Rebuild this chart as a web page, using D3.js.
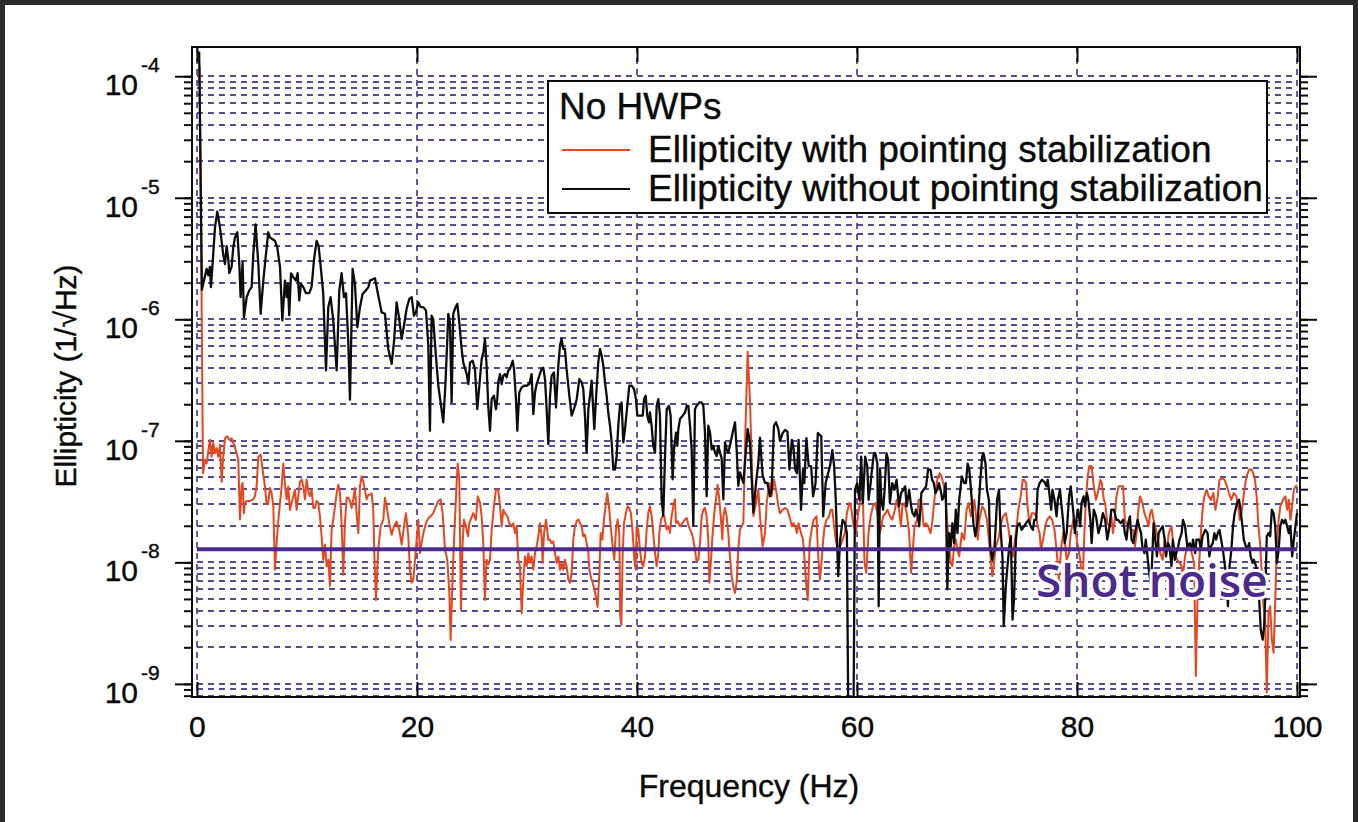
<!DOCTYPE html>
<html>
<head>
<meta charset="utf-8">
<script src="https://cdn.jsdelivr.net/npm/d3@7"></script>
<style>
  html, body { margin: 0; padding: 0; background: #fff; }
  svg { display: block; }
</style>
</head>
<body>
<script>
// ---- values ----
var xTicks = [0, 20, 40, 60, 80, 100];
var yDecades = [-9, -8, -7, -6, -5, -4];
var shotNoise = 1.28e-8;
var shotNoiseLabel = "Shot noise";
var legendTitle = "No HWPs";
var seriesNames = ["Ellipticity with pointing stabilization", "Ellipticity without pointing stabilization"];
var xTitle = "Frequency (Hz)";
var yTitle = "Ellipticity (1/\u221AHz)";

// [frequency (Hz), ellipticity (1/sqrt(Hz))]
var withStab = [
 [0.25,1.2e-4],[0.55,5.4e-8],[0.73,7.0e-8],[0.88,6.5e-8],[1.03,8.2e-8],[1.18,1.02e-7],[1.33,7.4e-8],[1.48,9.6e-8],
 [1.64,7.9e-8],[1.79,8.7e-8],[1.94,7.4e-8],[2.09,9.3e-8],[2.24,4.6e-8],[2.39,7.4e-8],[2.55,1.05e-7],[2.76,1.09e-7],
 [2.94,1.02e-7],[3.15,1.05e-7],[3.36,9.3e-8],[3.61,7.9e-8],[3.76,7.0e-8],[3.91,2.25e-8],[4.06,4.2e-8],[4.15,4.5e-8],
 [4.27,2.54e-8],[4.36,3.1e-8],[4.52,3.2e-8],[4.82,3.2e-8],[5.12,3.3e-8],[5.27,3.5e-8],[5.42,4.2e-8],[5.58,7.4e-8],
 [5.79,7.7e-8],[5.97,5.8e-8],[6.18,4.2e-8],[6.33,3.0e-8],[6.48,3.1e-8],[6.64,4.1e-8],[6.79,3.7e-8],[6.94,2.9e-8],
 [7.09,8.7e-9],[7.24,1.44e-8],[7.39,2.17e-8],[7.55,3.1e-8],[7.7,4.2e-8],[7.85,6.5e-8],[8.0,4.35e-8],[8.15,3.3e-8],
 [8.3,4.2e-8],[8.45,2.7e-8],[8.61,3.1e-8],[8.76,3.5e-8],[8.91,3.95e-8],[9.06,2.7e-8],[9.21,3.5e-8],[9.36,4.6e-8],
 [9.52,4.8e-8],[9.67,4.2e-8],[9.82,3.3e-8],[9.97,4.8e-8],[10.12,3.84e-8],[10.27,3.5e-8],[10.42,3.95e-8],[10.58,2.8e-8],
 [10.73,2.8e-8],[10.88,3.2e-8],[11.03,3.1e-8],[11.18,2.39e-8],[11.33,1.64e-8],[11.48,1.05e-8],[11.64,1.4e-8],[11.79,9.3e-9],
 [11.94,1.05e-8],[12.09,6.4e-9],[12.24,1.85e-8],[12.39,2.25e-8],[12.55,2.9e-8],[12.7,3.7e-8],[12.85,4.35e-8],[13.0,3.7e-8],
 [13.15,2.1e-8],[13.3,7.9e-9],[13.45,2.1e-8],[13.61,3.4e-8],[13.76,3.4e-8],[13.91,3.2e-8],[14.06,2.8e-8],[14.21,3.3e-8],
 [14.36,4.1e-8],[14.52,2.47e-8],[14.67,1.74e-8],[14.82,4.2e-8],[14.97,5.1e-8],[15.12,4.6e-8],[15.27,3.95e-8],[15.42,3.3e-8],
 [15.58,3.6e-8],[15.73,3.6e-8],[15.88,3.7e-8],[16.03,2.7e-8],[16.12,1.19e-8],[16.27,4.9e-9],[16.48,1.27e-8],[16.7,1.98e-8],
 [16.94,2.24e-8],[17.09,3.4e-8],[17.24,2.9e-8],[17.48,2.1e-8],[17.7,1.69e-8],[17.91,1.98e-8],[18.15,2.17e-8],[18.39,1.85e-8],
 [18.61,1.4e-8],[18.82,1.98e-8],[19.0,2.54e-8],[19.21,1.64e-8],[19.36,8.7e-9],[19.52,6.8e-9],[19.67,7.2e-9],[19.82,1.05e-8],
 [19.97,1.53e-8],[20.12,2.24e-8],[20.27,1.19e-8],[20.42,1.44e-8],[20.58,1.74e-8],[20.82,2.1e-8],[21.03,2.31e-8],[21.24,2.39e-8],
 [21.48,2.54e-8],[21.73,2.9e-8],[21.94,3.2e-8],[22.15,3.3e-8],[22.33,2.54e-8],[22.55,1.27e-8],[22.76,1.05e-8],[22.94,5.6e-9],
 [23.06,2.3e-9],[23.24,7.7e-9],[23.36,1.44e-8],[23.55,3.5e-8],[23.7,6.5e-8],[23.85,4.8e-8],[24.0,4.1e-9],[24.15,1.44e-8],
 [24.27,2.24e-8],[24.45,1.98e-8],[24.64,1.64e-8],[24.76,2.1e-8],[24.94,2.31e-8],[25.12,2.54e-8],[25.36,2.24e-8],[25.52,3.5e-8],
 [25.73,3.1e-8],[25.88,2.39e-8],[26.03,1.44e-8],[26.18,4.9e-9],[26.33,1.05e-8],[26.48,9.6e-9],[26.64,1.05e-8],[26.79,1.85e-8],
 [27.0,2.9e-8],[27.18,3.95e-8],[27.39,3.95e-8],[27.55,2.9e-8],[27.7,1.98e-8],[27.85,2.71e-8],[28.0,2.54e-8],[28.21,2.39e-8],
 [28.39,2.1e-8],[28.61,1.98e-8],[28.76,2.1e-8],[28.91,1.74e-8],[29.06,1.98e-8],[29.21,1.05e-8],[29.36,9.3e-9],[29.52,3.8e-9],
 [29.67,7.2e-9],[29.82,1.12e-8],[29.97,9.3e-9],[30.12,1.19e-8],[30.27,9.9e-9],[30.42,1.12e-8],[30.58,8.7e-9],[30.73,1.19e-8],
 [30.88,1.36e-8],[31.03,1.64e-8],[31.18,2.1e-8],[31.33,1.64e-8],[31.42,9.9e-9],[31.55,1.74e-8],[31.73,2.24e-8],[31.94,1.53e-8],
 [32.09,1.54e-8],[32.24,1.44e-8],[32.39,1.49e-8],[32.55,1.19e-8],[32.7,9.9e-9],[32.85,1.12e-8],[33.0,8.7e-9],[33.15,9.9e-9],
 [33.3,8.7e-9],[33.45,1.05e-8],[33.6,9.3e-9],[33.76,7.2e-9],[33.91,6.8e-9],[34.06,8.2e-9],[34.21,1.54e-8],[34.36,1.98e-8],
 [34.52,2.18e-8],[34.67,2.25e-8],[34.82,2.11e-8],[34.97,1.98e-8],[35.12,1.64e-8],[35.27,1.69e-8],[35.42,1.44e-8],[35.58,1.19e-8],
 [35.67,8.7e-9],[35.79,7.7e-9],[35.97,6.8e-9],[36.12,6.0e-9],[36.27,5.2e-9],[36.42,4.3e-9],[36.58,8.2e-9],[36.7,1.74e-8],
 [36.85,1.54e-8],[37.0,2.25e-8],[37.15,2.9e-8],[37.3,3.7e-8],[37.45,2.9e-8],[37.61,1.98e-8],[37.79,1.36e-8],[37.94,1.05e-8],
 [38.09,1.86e-8],[38.24,2.25e-8],[38.39,1.74e-8],[38.48,3.6e-9],[38.58,3.06e-9],[38.7,1.19e-8],[38.82,2.11e-8],[39.0,2.55e-8],
 [39.15,2.9e-8],[39.3,2.8e-8],[39.45,2.55e-8],[39.61,1.74e-8],[39.76,1.05e-8],[39.88,8.7e-9],[39.97,1.98e-8],[40.12,1.86e-8],
 [40.27,1.27e-8],[40.42,9.9e-9],[40.58,9.3e-9],[40.73,1.12e-8],[40.88,1.86e-8],[41.03,2.55e-8],[41.18,2.9e-8],[41.33,2.4e-8],
 [41.48,1.74e-8],[41.64,1.19e-8],[41.79,9.3e-9],[41.94,1.19e-8],[42.03,1.74e-8],[42.18,2.25e-8],[42.33,2.4e-8],[42.48,2.4e-8],
 [42.7,1.86e-8],[42.85,1.98e-8],[43.0,1.74e-8],[43.15,2.4e-8],[43.3,2.9e-8],[43.45,3.3e-8],[43.55,2.11e-8],[43.7,2.18e-8],
 [43.91,1.98e-8],[44.15,2.11e-8],[44.36,2.25e-8],[44.52,2.32e-8],[44.67,2.04e-8],[44.82,1.86e-8],[44.97,1.74e-8],[45.12,1.54e-8],
 [45.27,1.27e-8],[45.42,1.02e-8],[45.58,1.05e-8],[45.73,1.44e-8],[45.88,2.4e-8],[46.03,2.7e-8],[46.18,2.8e-8],[46.33,2.4e-8],
 [46.48,1.54e-8],[46.58,6.8e-9],[46.73,1.05e-8],[46.88,1.74e-8],[47.03,2.55e-8],[47.18,3.3e-8],[47.33,4.36e-8],[47.48,3.3e-8],
 [47.61,2.4e-8],[47.76,1.54e-8],[47.85,2.4e-8],[48.0,2.8e-8],[48.15,2.4e-8],[48.3,1.74e-8],[48.45,1.12e-8],[48.61,7.7e-9],
 [48.76,6.3e-9],[48.91,5.6e-9],[49.06,6.8e-9],[49.21,1.27e-8],[49.36,1.86e-8],[49.67,2.11e-8],[49.85,1.16e-7],[50.06,5.4e-7],
 [50.27,2.19e-7],[50.42,7.5e-8],[50.58,2.4e-8],[50.82,3.08e-8],[51.03,3.97e-8],[51.18,2.4e-8],[51.42,1.36e-8],[51.64,1.75e-8],
 [51.79,3.08e-8],[52.03,4.5e-8],[52.24,3.5e-8],[52.45,4.8e-8],[52.64,3.97e-8],[52.85,2.9e-8],[53.0,2.54e-8],[53.25,2.71e-8],
 [53.46,2.8e-8],[53.68,2.71e-8],[53.86,2.39e-8],[54.08,1.98e-8],[54.23,2.1e-8],[54.38,1.98e-8],[54.54,1.74e-8],[54.69,2.1e-8],
 [54.91,1.74e-8],[55.09,1.54e-8],[55.21,1.12e-8],[55.4,6.4e-9],[55.52,4.9e-9],[55.7,1.44e-8],[55.92,1.98e-8],[56.07,2.24e-8],
 [56.32,2.39e-8],[56.44,1.27e-8],[56.63,7.2e-9],[56.75,9.3e-9],[56.93,1.54e-8],[57.06,1.98e-8],[57.24,2.24e-8],[57.46,2.39e-8],
 [57.61,2.71e-8],[57.76,2.71e-8],[57.92,1.98e-8],[58.07,1.54e-8],[58.29,1.19e-8],[58.47,1.35e-8],[58.69,1.54e-8],[58.9,1.74e-8],
 [59.08,2.54e-8],[59.3,3.08e-8],[59.45,2.89e-8],[59.7,1.98e-8],[59.91,1.74e-8],[60.07,2.39e-8],[60.31,3.27e-8],[60.53,3.72e-8],
 [60.68,9.9e-9],[60.84,8.2e-9],[61.05,1.74e-8],[61.24,2.39e-8],[61.45,2.89e-8],[61.67,3.08e-8],[61.85,2.54e-8],[62.07,1.74e-8],
 [62.22,1.98e-8],[62.37,2.39e-8],[62.59,2.54e-8],[62.77,2.71e-8],[62.99,2.39e-8],[63.2,2.24e-8],[63.45,2.71e-8],[63.6,3.27e-8],
 [63.82,2.71e-8],[64.0,1.98e-8],[64.12,2.89e-8],[64.31,3.08e-8],[64.52,2.54e-8],[64.74,1.74e-8],[64.92,8.2e-9],[65.05,1.19e-8],
 [65.23,1.98e-8],[65.45,2.24e-8],[65.6,3.27e-8],[65.85,3.27e-8],[66.06,1.98e-8],[66.28,2.1e-8],[66.46,1.98e-8],[66.68,1.74e-8],
 [66.83,2.1e-8],[67.07,3.49e-8],[67.29,4.78e-8],[67.51,5.4e-8],[67.69,5.1e-8],[67.9,4.22e-8],[68.06,3.27e-8],[68.21,2.1e-8],
 [68.37,1.35e-8],[68.52,9.9e-9],[68.67,9.3e-9],[68.83,1.35e-8],[68.98,1.54e-8],[69.13,1.27e-8],[69.29,1.12e-8],[69.53,1.74e-8],
 [69.75,1.54e-8],[69.96,2.71e-8],[70.15,3.08e-8],[70.36,2.39e-8],[70.52,2.71e-8],[70.67,3.27e-8],[70.82,2.39e-8],[70.98,1.54e-8],
 [71.13,2.24e-8],[71.38,2.89e-8],[71.59,2.71e-8],[71.81,2.24e-8],[71.99,1.54e-8],[72.11,1.19e-8],[72.3,7.7e-9],[72.42,9.3e-9],
 [72.61,1.35e-8],[72.73,1.44e-8],[72.91,1.64e-8],[73.04,1.98e-8],[73.28,2.39e-8],[73.53,2.54e-8],[73.74,1.98e-8],[73.9,1.54e-8],
 [74.05,1.19e-8],[74.2,1.12e-8],[74.36,1.54e-8],[74.51,1.98e-8],[74.67,2.71e-8],[74.88,3.49e-8],[75.07,4.78e-8],[75.19,4.78e-8],
 [75.37,4.49e-8],[75.5,2.89e-8],[75.68,2.1e-8],[75.9,2.54e-8],[76.11,2.54e-8],[76.29,2.39e-8],[76.42,1.98e-8],[76.6,1.74e-8],
 [76.72,1.27e-8],[76.91,1.54e-8],[77.12,1.98e-8],[77.28,2.24e-8],[77.52,2.39e-8],[77.74,2.24e-8],[77.95,1.85e-8],[78.14,1.27e-8],
 [78.35,7.2e-9],[78.57,1.35e-8],[78.75,1.74e-8],[78.88,1.54e-8],[79.06,1.05e-8],[79.28,1.19e-8],[79.43,1.74e-8],[79.67,2.24e-8],
 [79.89,1.74e-8],[80.04,1.44e-8],[80.29,1.05e-8],[80.5,6.4e-9],[80.66,1.64e-8],[80.81,3.27e-8],[80.97,5.1e-8],[81.12,6.2e-8],
 [81.33,6.2e-8],[81.52,4.22e-8],[81.73,3.27e-8],[81.89,3.72e-8],[82.13,4.78e-8],[82.26,4.49e-8],[82.44,3.27e-8],[82.56,3.08e-8],
 [82.75,2.1e-8],[82.96,1.98e-8],[83.12,2.39e-8],[83.27,1.74e-8],[83.42,2.24e-8],[83.58,3.49e-8],[83.79,4.22e-8],[83.98,4.22e-8],
 [84.19,4.22e-8],[84.35,2.24e-8],[84.59,1.98e-8],[84.71,2.1e-8],[84.9,1.85e-8],[85.11,1.85e-8],[85.27,1.35e-8],[85.42,1.74e-8],
 [85.57,2.71e-8],[85.73,3.49e-8],[85.94,3.08e-8],[86.13,2.54e-8],[86.34,2.24e-8],[86.5,1.98e-8],[86.65,2.54e-8],[86.8,2.71e-8],
 [86.96,2.24e-8],[87.11,1.98e-8],[87.36,1.54e-8],[87.57,1.19e-8],[87.79,1.05e-8],[87.97,1.54e-8],[88.19,1.27e-8],[88.34,1.74e-8],
 [88.59,1.98e-8],[88.71,1.54e-8],[88.89,1.19e-8],[89.11,1.05e-8],[89.32,9.9e-9],[89.51,9.3e-9],[89.63,7.7e-9],[89.82,1.12e-8],
 [90.03,1.35e-8],[90.25,1.35e-8],[90.43,1.19e-8],[90.65,9.9e-9],[90.8,1.16e-9],[90.95,4.9e-9],[91.11,9.9e-9],[91.26,1.74e-8],
 [91.41,2.71e-8],[91.57,3.49e-8],[91.78,3.96e-8],[91.97,3.49e-8],[92.18,3.27e-8],[92.4,3.72e-8],[92.58,2.71e-8],[92.8,3.49e-8],
 [92.95,4.78e-8],[93.2,4.93e-8],[93.41,4.78e-8],[93.63,4.22e-8],[93.81,3.72e-8],[94.03,3.27e-8],[94.24,3.72e-8],[94.49,3.49e-8],
 [94.64,2.89e-8],[94.79,2.24e-8],[94.95,2.54e-8],[95.1,3.27e-8],[95.26,4.22e-8],[95.41,5.1e-8],[95.65,5.8e-8],[95.87,5.8e-8],
 [96.02,5.4e-8],[96.18,4.78e-8],[96.33,3.49e-8],[96.49,1.98e-8],[96.64,1.44e-8],[96.79,8.2e-9],[96.95,4.35e-9],[97.1,3.38e-9],
 [97.25,8.5e-10],[97.41,3.83e-9],[97.56,4.35e-9],[97.71,2.31e-9],[97.87,1.8e-9],[98.02,4.9e-9],[98.17,1.44e-8],[98.33,2.24e-8],
 [98.48,2.89e-8],[98.73,3.27e-8],[98.94,3.49e-8],[99.1,2.71e-8],[99.25,3.27e-8],[99.4,2.24e-8],[99.56,2.89e-8],[99.71,3.96e-8],
 [99.86,4.22e-8],[100.0,4.3e-8]
];

var withoutStab = [
 [0.2,1.6e-4],[0.45,1.75e-6],[0.88,2.6e-6],[1.03,2.3e-6],[1.18,2.7e-6],[1.27,1.84e-6],[1.42,2.85e-6],[1.64,5.7e-6],
 [1.85,7.7e-6],[2.09,5.7e-6],[2.39,3.4e-6],[2.55,2.85e-6],[2.7,4.0e-6],[2.85,3.1e-6],[2.94,2.4e-6],[3.15,2.7e-6],
 [3.3,3.9e-6],[3.45,4.7e-6],[3.67,5.2e-6],[3.85,2.85e-6],[3.97,1.52e-6],[4.15,2.95e-6],[4.27,1.04e-6],[4.52,1.52e-6],
 [4.76,1.73e-6],[4.97,1.84e-6],[5.12,3.4e-6],[5.33,6.05e-6],[5.58,2.85e-6],[5.79,1.11e-6],[6.03,2.08e-6],[6.27,3.4e-6],
 [6.48,5.2e-6],[6.64,4.7e-6],[6.88,4.56e-6],[7.09,4.42e-6],[7.3,3.9e-6],[7.55,2.7e-6],[7.76,9.8e-7],[8.0,2.08e-6],
 [8.15,1.52e-6],[8.27,1.96e-6],[8.39,1.08e-6],[8.55,2.39e-6],[8.76,2.22e-6],[9.0,2.08e-6],[9.15,2.4e-6],[9.3,1.43e-6],
 [9.45,1.96e-6],[9.67,1.84e-6],[9.91,1.64e-6],[10.2,1.64e-6],[10.42,1.84e-6],[10.64,3.1e-6],[10.88,4.42e-6],[11.06,4.0e-6],
 [11.27,2.6e-6],[11.48,1.62e-6],[11.73,3.8e-7],[11.94,1.26e-6],[12.15,1.52e-6],[12.39,9.8e-7],[12.7,3.8e-7],[12.94,1.73e-6],
 [13.15,2.4e-6],[13.36,1.52e-6],[13.55,1.64e-6],[13.76,6.3e-7],[13.91,2.18e-7],[14.15,2.6e-6],[14.36,1.96e-6],[14.58,8.6e-7],
 [14.82,1.26e-6],[15.06,1.62e-6],[15.36,1.73e-6],[15.58,1.84e-6],[15.73,2.08e-6],[16.18,2.18e-6],[16.48,1.57e-6],[16.79,1.14e-6],
 [17.09,1.11e-6],[17.39,5.7e-7],[17.7,4.3e-7],[17.91,6.5e-7],[18.15,1.38e-6],[18.39,1.0e-6],[18.61,6.9e-7],[18.82,8.9e-7],
 [19.06,1.22e-6],[19.3,1.47e-6],[19.52,1.52e-6],[19.73,1.07e-6],[19.91,1.14e-6],[20.12,1.38e-6],[20.33,1.26e-6],[20.58,1.26e-6],
 [20.82,1.18e-6],[21.03,6.1e-7],[21.18,1.21e-7],[21.33,1.07e-6],[21.48,1.0e-6],[21.7,5.3e-7],[21.94,2.84e-7],[22.15,2.07e-7],
 [22.39,1.42e-7],[22.58,2.84e-7],[22.76,6.9e-7],[22.85,1.11e-6],[23.0,9.4e-7],[23.15,2.07e-7],[23.3,1.11e-6],[23.45,1.22e-6],
 [23.67,1.34e-6],[23.85,9.4e-7],[24.06,5.7e-7],[24.21,4.4e-7],[24.52,3.54e-7],[24.67,2.93e-7],[24.82,4.4e-7],[25.06,4.56e-7],
 [25.27,3.9e-7],[25.48,1.82e-7],[25.67,2.84e-7],[25.88,4.7e-7],[26.03,5.3e-7],[26.18,6.9e-7],[26.33,4.15e-7],[26.48,1.94e-7],
 [26.64,1.21e-7],[26.79,2.2e-7],[27.0,2.35e-7],[27.18,1.82e-7],[27.3,2.2e-7],[27.39,3.03e-7],[27.55,3.54e-7],[27.7,2.93e-7],
 [27.85,3.43e-7],[28.0,3.54e-7],[28.15,3.33e-7],[28.3,3.78e-7],[28.45,3.9e-7],[28.7,4.56e-7],[28.82,3.9e-7],[29.0,2.2e-7],
 [29.12,1.21e-7],[29.3,2.5e-7],[29.52,2.75e-7],[29.73,2.84e-7],[29.97,2.84e-7],[30.21,2.93e-7],[30.42,3.54e-7],[30.58,1.66e-7],
 [30.73,2.5e-7],[30.88,2.93e-7],[31.12,3.43e-7],[31.33,3.9e-7],[31.48,4.0e-7],[31.64,3.22e-7],[31.79,1.82e-7],[31.94,9.4e-8],
 [32.09,2.3e-7],[32.24,3.43e-7],[32.45,3.66e-7],[32.64,1.88e-7],[32.85,4.15e-7],[33.0,6.1e-7],[33.15,6.9e-7],[33.3,5.7e-7],
 [33.45,5.7e-7],[33.6,3.9e-7],[33.85,2.35e-7],[34.06,1.61e-7],[34.27,1.82e-7],[34.52,2.2e-7],[34.76,3.22e-7],[34.97,3.03e-7],
 [35.12,2.67e-7],[35.27,1.61e-7],[35.42,8.0e-8],[35.58,1.82e-7],[35.73,2.35e-7],[35.88,3.13e-7],[35.97,2.2e-7],[36.12,1.25e-7],
 [36.27,2.2e-7],[36.48,4.43e-7],[36.64,5.7e-7],[36.79,5.0e-7],[36.94,4.15e-7],[37.09,3.03e-7],[37.24,2.35e-7],[37.39,1.71e-7],
 [37.55,1.33e-7],[37.7,9.7e-8],[37.85,5.8e-8],[38.0,5.8e-8],[38.15,7.5e-8],[38.3,1.33e-7],[38.45,1.94e-7],[38.6,2.07e-7],
 [38.76,9.7e-8],[38.91,1.25e-7],[39.06,1.71e-7],[39.3,2.84e-7],[39.52,2.84e-7],[39.73,2.67e-7],[39.91,2.2e-7],[40.03,1.61e-7],
 [40.27,1.61e-7],[40.52,1.61e-7],[40.64,2.2e-7],[40.79,2.35e-7],[40.94,1.61e-7],[41.09,1.42e-7],[41.18,1.71e-7],[41.33,1.33e-7],
 [41.48,9.1e-8],[41.64,8.0e-8],[41.79,1.94e-7],[41.94,2.2e-7],[42.09,1.61e-7],[42.24,3.3e-8],[42.39,2.41e-8],[42.55,7.5e-8],
 [42.7,1.82e-7],[42.91,1.94e-7],[43.06,1.61e-7],[43.24,4.83e-8],[43.36,8.5e-8],[43.55,1.17e-7],[43.67,9.1e-8],[43.76,1.25e-7],
 [43.91,1.51e-7],[44.15,1.61e-7],[44.36,1.71e-7],[44.52,1.94e-7],[44.67,1.94e-7],[44.82,1.33e-7],[44.97,8.5e-8],[45.12,2.0e-8],
 [45.27,1.82e-7],[45.42,1.94e-7],[45.67,2.07e-7],[45.88,2.07e-7],[46.03,1.94e-7],[46.18,1.17e-7],[46.33,3.5e-8],[46.48,1.33e-7],
 [46.64,1.17e-7],[46.79,8.5e-8],[46.94,9.1e-8],[47.09,8.0e-8],[47.24,7.5e-8],[47.39,9.1e-8],[47.55,8.0e-8],[47.7,7.1e-8],
 [47.85,3.3e-8],[48.0,9.7e-8],[48.15,8.5e-8],[48.3,8.0e-8],[48.45,9.1e-8],[48.7,1.17e-7],[48.91,1.42e-7],[49.06,8.5e-8],
 [49.21,4.26e-8],[49.36,5.5e-8],[49.67,4.5e-8],[50.06,1.25e-7],[50.27,9.7e-8],[50.58,2.56e-8],[50.82,4.5e-8],[51.03,6.6e-8],
 [51.18,1.06e-7],[51.42,5.2e-8],[51.64,4.5e-8],[51.85,4.5e-8],[52.09,3.5e-8],[52.24,4.0e-8],[52.45,1.33e-7],[52.64,1.42e-7],
 [52.85,1.25e-7],[53.0,1.0e-7],[53.25,1.16e-7],[53.46,1.23e-7],[53.68,1.19e-7],[53.86,5.8e-8],[54.08,1.02e-7],[54.23,8.7e-8],
 [54.38,5.8e-8],[54.54,5.4e-8],[54.69,1.02e-7],[54.91,2.71e-8],[55.09,5.8e-8],[55.21,4.49e-8],[55.4,1.05e-7],[55.61,6.2e-8],
 [55.83,6.2e-8],[56.01,3.49e-8],[56.23,4.49e-8],[56.44,1.16e-7],[56.75,1.09e-7],[56.93,2.39e-8],[57.15,4.49e-8],[57.3,5.1e-8],
 [57.55,6.2e-8],[57.76,8.4e-8],[57.92,6.2e-8],[58.07,3.27e-8],[58.29,7.7e-9],[58.47,1.54e-8],[58.69,2.24e-8],[58.9,2.1e-8],
 [59.08,1.74e-8],[59.21,5.0e-10],[59.45,5.0e-10],[59.68,5.0e-10],[59.82,3.96e-8],[60.01,4.49e-8],[60.22,3.27e-8],[60.38,7.4e-8],
 [60.53,3.08e-8],[60.74,7.4e-8],[60.93,6.2e-8],[61.05,3.27e-8],[61.24,4.49e-8],[61.36,5.8e-8],[61.54,7.9e-8],[61.67,7.9e-8],
 [61.85,6.5e-8],[61.97,4.35e-9],[62.1,5.8e-8],[62.22,3.27e-8],[62.37,2.71e-8],[62.53,4.22e-8],[62.68,7.9e-8],[62.83,7.0e-8],
 [62.99,3.08e-8],[63.2,4.49e-8],[63.39,3.96e-8],[63.6,4.78e-8],[63.82,2.89e-8],[64.0,3.72e-8],[64.22,3.96e-8],[64.37,4.22e-8],
 [64.52,2.89e-8],[64.74,3.96e-8],[64.92,2.89e-8],[65.05,2.54e-8],[65.23,2.39e-8],[65.35,2.71e-8],[65.54,2.39e-8],[65.66,1.98e-8],
 [65.85,3.72e-8],[66.06,3.96e-8],[66.28,4.22e-8],[66.46,5.8e-8],[66.68,5.8e-8],[66.83,4.78e-8],[66.98,4.49e-8],[67.14,3.72e-8],
 [67.29,3.96e-8],[67.44,4.49e-8],[67.6,3.96e-8],[67.75,3.27e-8],[67.9,3.49e-8],[68.06,4.49e-8],[68.21,6.0e-9],[68.37,1.74e-8],
 [68.52,1.35e-8],[68.67,2.1e-8],[68.83,1.44e-8],[68.98,2.71e-8],[69.13,1.74e-8],[69.29,3.27e-8],[69.53,5.1e-8],[69.75,4.49e-8],
 [69.9,4.49e-8],[70.06,6.5e-8],[70.21,5.8e-8],[70.36,3.96e-8],[70.58,2.1e-8],[70.76,1.64e-8],[70.98,2.24e-8],[71.19,4.49e-8],
 [71.38,7.4e-8],[71.5,7.9e-8],[71.68,6.5e-8],[71.81,3.96e-8],[71.99,3.27e-8],[72.11,1.35e-8],[72.3,1.05e-8],[72.51,1.35e-8],
 [72.73,3.27e-8],[72.91,3.96e-8],[73.04,1.98e-8],[73.22,1.12e-8],[73.34,2.98e-9],[73.53,6.4e-9],[73.65,8.7e-9],[73.84,1.35e-8],
 [73.99,1.64e-8],[74.14,3.38e-9],[74.27,4.9e-9],[74.45,1.54e-8],[74.57,1.98e-8],[74.76,2.1e-8],[74.97,1.85e-8],[75.19,1.98e-8],
 [75.37,2.1e-8],[75.59,2.24e-8],[75.8,1.98e-8],[75.99,1.85e-8],[76.11,2.24e-8],[76.29,2.24e-8],[76.42,3.96e-8],[76.6,4.49e-8],
 [76.82,4.78e-8],[77.03,4.6e-8],[77.22,4.22e-8],[77.34,4.78e-8],[77.52,3.49e-8],[77.65,2.71e-8],[77.77,3.96e-8],[77.95,3.27e-8],
 [78.14,2.39e-8],[78.26,3.27e-8],[78.45,3.96e-8],[78.57,3.08e-8],[78.75,2.1e-8],[78.88,1.44e-8],[79.06,1.74e-8],[79.28,3.49e-8],
 [79.43,4.22e-8],[79.67,2.54e-8],[79.8,1.74e-8],[79.98,2.39e-8],[80.1,2.71e-8],[80.29,1.98e-8],[80.41,3.08e-8],[80.6,3.49e-8],
 [80.72,2.89e-8],[80.9,3.72e-8],[81.03,3.27e-8],[81.21,2.24e-8],[81.33,1.44e-8],[81.52,2.71e-8],[81.73,2.39e-8],[81.95,1.74e-8],
 [82.13,1.98e-8],[82.35,2.54e-8],[82.56,2.24e-8],[82.75,1.54e-8],[82.96,1.98e-8],[83.12,2.71e-8],[83.36,2.71e-8],[83.58,2.24e-8],
 [83.73,2.24e-8],[83.98,2.1e-8],[84.19,2.24e-8],[84.35,1.74e-8],[84.5,1.54e-8],[84.65,2.1e-8],[84.81,2.39e-8],[84.96,1.54e-8],
 [85.11,1.44e-8],[85.33,1.85e-8],[85.51,2.24e-8],[85.64,1.98e-8],[85.82,1.74e-8],[85.94,1.35e-8],[86.13,1.19e-8],[86.25,1.54e-8],
 [86.44,1.05e-8],[86.56,8.2e-9],[86.74,6.4e-9],[86.96,2.1e-8],[87.11,1.54e-8],[87.27,1.12e-8],[87.42,1.74e-8],[87.57,1.85e-8],
 [87.79,1.98e-8],[87.97,1.54e-8],[88.09,1.12e-8],[88.28,1.44e-8],[88.4,1.35e-8],[88.59,9.3e-9],[88.71,1.54e-8],[88.89,1.05e-8],
 [89.02,1.19e-8],[89.2,1.35e-8],[89.32,1.54e-8],[89.51,1.74e-8],[89.63,2.24e-8],[89.82,1.98e-8],[90.03,1.35e-8],[90.25,1.44e-8],
 [90.43,1.27e-8],[90.55,1.54e-8],[90.74,1.19e-8],[90.86,1.54e-8],[91.11,1.54e-8],[91.26,1.27e-8],[91.41,1.64e-8],[91.66,1.85e-8],
 [91.87,1.74e-8],[92.03,1.12e-8],[92.18,1.35e-8],[92.34,1.44e-8],[92.49,1.74e-8],[92.64,1.54e-8],[92.8,1.74e-8],[92.95,1.85e-8],
 [93.1,1.54e-8],[93.26,1.27e-8],[93.41,9.9e-9],[93.57,7.7e-9],[93.72,4.35e-9],[93.87,9.3e-9],[94.03,1.27e-8],[94.18,1.98e-8],
 [94.33,2.54e-8],[94.55,3.08e-8],[94.73,3.27e-8],[94.86,2.71e-8],[95.04,1.98e-8],[95.16,1.54e-8],[95.35,1.35e-8],[95.47,1.27e-8],
 [95.65,1.44e-8],[95.78,1.12e-8],[95.96,9.9e-9],[96.08,1.05e-8],[96.27,9.3e-9],[96.39,7.7e-9],[96.58,4.6e-9],[96.7,2.8e-9],
 [96.88,2.31e-9],[97.01,2.98e-9],[97.1,4.9e-9],[97.25,1.64e-8],[97.41,1.74e-8],[97.56,1.64e-8],[97.71,2.71e-8],[97.87,2.54e-8],
 [98.02,1.98e-8],[98.17,9.9e-9],[98.33,1.27e-8],[98.48,1.98e-8],[98.64,2.24e-8],[98.79,2.1e-8],[98.94,2.24e-8],[99.1,1.98e-8],
 [99.25,1.74e-8],[99.4,1.98e-8],[99.56,1.12e-8],[99.71,1.54e-8],[99.86,1.98e-8],[100.0,2.54e-8]
];

// ---- layout ----
var W = 1358, H = 822;
var plot = { left: 192, right: 1300, top: 47, bottom: 697 };
var fontMain = "'Liberation Sans', Arial, Helvetica, sans-serif";
var gridColor = "#4f4d96";
var redColor = "#e8461e";
var blackColor = "#0d0d0d";
var purple = "#4b2a8c";
var ink = "#0a0a0a";

var svg = d3.select("body").append("svg")
	.attr("width", W)
	.attr("height", H);

svg.append("rect")
	.attr("x", 0).attr("y", 0).attr("width", W).attr("height", H)
	.attr("fill", "#fff");

// dark border round the picture
svg.append("rect")
	.attr("x", 2.5).attr("y", 2.5)
	.attr("width", W - 5).attr("height", H + 10)
	.attr("fill", "none")
	.attr("stroke", "#2a2a2a")
	.attr("stroke-width", 5);

var x = d3.scaleLinear().domain([-0.45, 100.27]).range([plot.left, plot.right]);
var y = d3.scaleLog().domain([7.8e-10, 1.74e-4]).range([plot.bottom, plot.top]);

// minor values 1..9 x 10^n inside the domain
var minorVals = [];
yDecades.concat([-10]).forEach(function (d) {
	for (var k = 1; k <= 9; k++) {
		var v = k * Math.pow(10, d);
		if (v >= y.domain()[0] && v <= y.domain()[1]) minorVals.push(v);
	}
});
var decadeVals = yDecades.map(function (d) { return Math.pow(10, d); });

svg.append("defs").append("clipPath").attr("id", "plotClip")
	.append("rect")
	.attr("x", plot.left).attr("y", plot.top)
	.attr("width", plot.right - plot.left)
	.attr("height", plot.bottom - plot.top);

// grid
var grid = svg.append("g").attr("class", "grid")
	.attr("stroke", gridColor)
	.attr("stroke-width", 1.8)
	.attr("stroke-dasharray", "6,5")
	.attr("fill", "none");

grid.selectAll("line.h").data(minorVals).enter().append("line")
	.attr("class", "h")
	.attr("x1", x(0)).attr("x2", x(100))
	.attr("y1", function (d) { return Math.round(y(d)); })
	.attr("y2", function (d) { return Math.round(y(d)); });

grid.selectAll("line.v").data(xTicks).enter().append("line")
	.attr("class", "v")
	.attr("x1", function (d) { return Math.round(x(d)); })
	.attr("x2", function (d) { return Math.round(x(d)); })
	.attr("y1", plot.top).attr("y2", plot.bottom);

// series
var line = d3.line()
	.x(function (d) { return x(d[0]); })
	.y(function (d) { return y(d[1]); });

var curves = svg.append("g").attr("clip-path", "url(#plotClip)");

curves.append("path")
	.datum(withStab)
	.attr("d", line)
	.attr("fill", "none")
	.attr("stroke", redColor)
	.attr("stroke-width", 2)
	.attr("stroke-linejoin", "round");

curves.append("path")
	.datum(withoutStab)
	.attr("d", line)
	.attr("fill", "none")
	.attr("stroke", blackColor)
	.attr("stroke-width", 2.3)
	.attr("stroke-linejoin", "round");

// shot noise level
curves.append("line")
	.attr("x1", x(0)).attr("x2", x(100))
	.attr("y1", y(shotNoise)).attr("y2", y(shotNoise))
	.attr("stroke", purple)
	.attr("stroke-width", 4);

svg.append("text")
	.attr("x", 1036).attr("y", 597)
	.attr("font-family", "'Open Sans', 'Noto Sans', sans-serif")
	.attr("font-weight", 600)
	.attr("font-size", 46)
	.attr("fill", purple)
	.attr("stroke", "#fff")
	.attr("stroke-width", 6)
	.attr("stroke-linejoin", "round")
	.attr("paint-order", "stroke")
	.text(shotNoiseLabel);

// axes (ticks only, frame drawn separately)
function styleAxis(g) {
	g.select(".domain").remove();
	g.selectAll(".tick line").attr("stroke", ink).attr("stroke-width", 2);
}

svg.append("g").attr("transform", "translate(" + plot.left + ",0)")
	.call(d3.axisLeft(y).tickValues(minorVals).tickSize(8).tickFormat(""))
	.call(styleAxis);
svg.append("g").attr("transform", "translate(" + plot.left + ",0)")
	.call(d3.axisLeft(y).tickValues(decadeVals).tickSize(17).tickFormat(""))
	.call(styleAxis);
svg.append("g").attr("transform", "translate(" + plot.right + ",0)")
	.call(d3.axisRight(y).tickValues(minorVals).tickSize(8).tickFormat(""))
	.call(styleAxis);
svg.append("g").attr("transform", "translate(" + plot.right + ",0)")
	.call(d3.axisRight(y).tickValues(decadeVals).tickSize(17).tickFormat(""))
	.call(styleAxis);

var xAxis = svg.append("g").attr("transform", "translate(0," + plot.bottom + ")")
	.call(d3.axisBottom(x).tickValues(xTicks).tickSize(-15).tickPadding(19))
	.call(styleAxis);
xAxis.selectAll(".tick text")
	.attr("font-family", fontMain)
	.attr("font-size", 30)
	.attr("fill", ink)
	.attr("stroke", ink)
	.attr("stroke-width", 0.4);

svg.append("g").attr("transform", "translate(0," + plot.top + ")")
	.call(d3.axisTop(x).tickValues(xTicks).tickSize(-15).tickFormat(""))
	.call(styleAxis);

// y labels 10^n
var yLab = svg.append("g").attr("font-family", fontMain)
	.attr("fill", ink).attr("stroke", ink).attr("stroke-width", 0.4);
yLab.selectAll("text.base").data(yDecades).enter().append("text")
	.attr("class", "base")
	.attr("x", 138)
	.attr("y", function (d) { return y(Math.pow(10, d)) + 19; })
	.attr("text-anchor", "end")
	.attr("font-size", 30)
	.text("10");
yLab.selectAll("text.exp").data(yDecades).enter().append("text")
	.attr("class", "exp")
	.attr("x", 141)
	.attr("y", function (d) { return y(Math.pow(10, d)) - 4; })
	.attr("font-size", 21)
	.text(function (d) { return String(d); });

// frame
svg.append("rect")
	.attr("x", plot.left).attr("y", plot.top)
	.attr("width", plot.right - plot.left)
	.attr("height", plot.bottom - plot.top)
	.attr("fill", "none")
	.attr("stroke", ink)
	.attr("stroke-width", 2);

// axis titles
svg.append("text")
	.attr("x", 749).attr("y", 797)
	.attr("text-anchor", "middle")
	.attr("font-family", fontMain)
	.attr("font-size", 32)
	.attr("fill", ink)
	.attr("stroke", ink)
	.attr("stroke-width", 0.4)
	.text(xTitle);

svg.append("text")
	.attr("transform", "translate(76,376) rotate(-90)")
	.attr("text-anchor", "middle")
	.attr("font-family", fontMain)
	.attr("font-size", 30)
	.attr("fill", ink)
	.attr("stroke", ink)
	.attr("stroke-width", 0.4)
	.text(yTitle);

// legend
var leg = svg.append("g").attr("font-family", fontMain).attr("fill", ink);
leg.append("rect")
	.attr("x", 548).attr("y", 81)
	.attr("width", 719).attr("height", 132)
	.attr("fill", "#fff")
	.attr("stroke", ink)
	.attr("stroke-width", 2);
leg.append("text").attr("x", 559).attr("y", 119).attr("font-size", 37)
	.attr("stroke", ink).attr("stroke-width", 0.4)
	.text(legendTitle);
var legColors = [redColor, blackColor];
var legY = [150, 189];
seriesNames.forEach(function (name, i) {
	leg.append("line")
		.attr("x1", 562).attr("x2", 630)
		.attr("y1", legY[i]).attr("y2", legY[i])
		.attr("stroke", legColors[i])
		.attr("stroke-width", 2);
	leg.append("text")
		.attr("x", 648).attr("y", legY[i] + 12)
		.attr("font-size", 37)
		.attr("stroke", ink).attr("stroke-width", 0.4)
		.text(name);
});
</script>
</body>
</html>
